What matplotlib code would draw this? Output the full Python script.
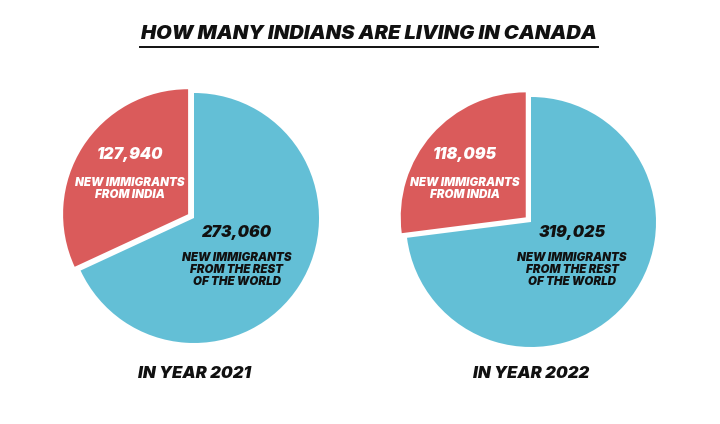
import matplotlib
matplotlib.use("Agg")
import matplotlib.pyplot as plt

# data
years = ["IN YEAR 2021", "IN YEAR 2022"]
india = [127940, 118095]
rest_of_world = [273060, 319025]
india_label = "NEW IMMIGRANTS\nFROM INDIA"
rest_label = "NEW IMMIGRANTS\nFROM THE REST\nOF THE WORLD"
title = "HOW MANY INDIANS ARE LIVING IN CANADA"

RED = "#DA5B5B"
BLUE = "#63BFD6"
FONT = ["Inter", "DejaVu Sans"]

W, H = 720, 424
fig = plt.figure(figsize=(W / 100, H / 100), dpi=100)
ax = fig.add_axes([0, 0, 1, 1])

# pie centres / radius in pixels (y measured from top)
centres = [(194, 218), (531, 222)]
radius = 125
gap = 7  # explode offset of the India slice, pixels
# label anchor positions (pixels from top)
india_pos = [(130, 155), (465, 155)]
rest_pos = [(237, 232), (572, 232)]


def txt(x, y, s, size, color="#111111", **kw):
    ax.text(x, H - y, s, fontsize=size, color=color, family=FONT,
            weight=900, style="italic", ha="center", va="center", **kw)


for i in range(2):
    cx, cy = centres[i]
    ax.pie([rest_of_world[i], india[i]], colors=[BLUE, RED],
           startangle=90, counterclock=False, explode=[0, gap],
           center=(cx, H - cy), radius=radius,
           wedgeprops=dict(linewidth=0))
    ix, iy = india_pos[i]
    txt(ix, iy, f"{india[i]:,}", 11.5, color="white")
    txt(ix, iy + 34, india_label, 8.3, color="white", linespacing=1.05)
    rx, ry = rest_pos[i]
    txt(rx, ry, f"{rest_of_world[i]:,}", 11.5)
    txt(rx, ry + 38, rest_label, 8.3, linespacing=1.05)
    txt(cx, 373, years[i], 12)

txt(369, 34, title, 14.5)
ax.plot([140, 598], [H - 47, H - 47], color="#111111", lw=1.4)

ax.set_xlim(0, W)
ax.set_ylim(0, H)
ax.set_aspect("auto")
ax.axis("off")

fig.savefig("out.png", dpi=100, facecolor="white")
